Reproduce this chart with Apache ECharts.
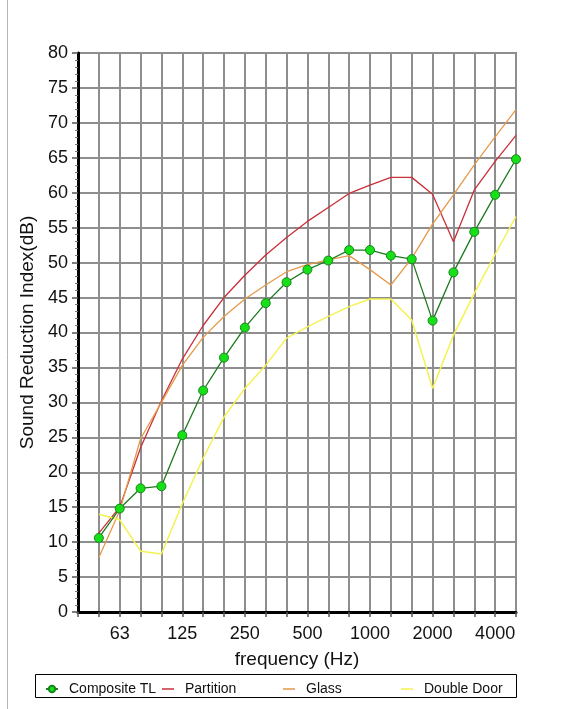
<!DOCTYPE html>
<html>
<head>
<meta charset="utf-8">
<script src="https://cdn.jsdelivr.net/npm/echarts@6/dist/echarts.min.js"></script>
<style>
  html, body { margin: 0; padding: 0; background: #fff; }
  #chart { width: 567px; height: 709px; }
</style>
</head>
<body>
<div id="chart"></div>
<script>
// one-third octave bands, 50 Hz .. 5000 Hz
var freqs = ['50', '63', '80', '100', '125', '160', '200', '250', '315', '400', '500',
    '630', '800', '1000', '1250', '1600', '2000', '2500', '3150', '4000', '5000'];
var tickLabels = ['63', '125', '250', '500', '1000', '2000', '4000'];

var compositeTL = [10.6, 14.8, 17.7, 18.0, 25.3, 31.7, 36.4, 40.7, 44.2, 47.2, 49.0,
    50.3, 51.8, 51.8, 51.0, 50.5, 41.7, 48.6, 54.4, 59.7, 64.8];
var partition = [11.3, 15.0, 23.5, 30.2, 36.2, 41.0, 45.0, 48.2, 51.1, 53.6, 55.9,
    57.9, 59.9, 61.1, 62.2, 62.2, 59.8, 53.0, 60.4, 64.5, 68.2];
var glass = [7.8, 14.5, 24.8, 30.0, 35.3, 39.3, 42.3, 44.8, 46.8, 48.7, 49.7,
    50.4, 51.0, 49.0, 46.8, 50.6, 55.5, 59.7, 64.0, 68.0, 71.9];
var doubleDoor = [14.0, 13.2, 8.7, 8.3, 15.5, 22.0, 27.9, 32.0, 35.3, 39.2, 40.8,
    42.3, 43.7, 44.8, 44.8, 41.8, 32.0, 39.6, 45.6, 51.2, 56.6];

function toPoints(arr) {
    return arr.map(function (v, i) { return [i, v]; });
}

var font = 'Arial, "Liberation Sans", sans-serif';
var chart = echarts.init(document.getElementById('chart'));

// one legend per entry so each can sit where the original puts it
function legendAt(name, left, lineOnly) {
    var lg = {
        data: [name],
        left: left,
        top: 677,
        itemWidth: 12,
        itemHeight: 8,
        selectedMode: false,
        textStyle: { fontFamily: font, fontSize: 14, color: '#111', padding: [0, 0, 0, 6] }
    };
    if (lineOnly) {
        lg.icon = 'rect';
        lg.itemHeight = 1.5;
    }
    return lg;
}

var option = {
    animation: false,
    backgroundColor: '#fff',
    grid: {
        left: 78, right: 51, top: 53, bottom: 97,
        show: true,
        borderColor: '#333',
        borderWidth: 1.5
    },
    xAxis: {
        type: 'value',
        min: -1,
        max: 20,
        interval: 1,
        name: 'frequency (Hz)',
        nameLocation: 'middle',
        nameGap: 38,
        nameTextStyle: { fontFamily: font, fontSize: 19, color: '#111' },
        axisLine: { onZero: false, lineStyle: { color: '#000', width: 3 } },
        axisTick: { show: true, length: 5, lineStyle: { color: '#555', width: 1.5 } },
        axisLabel: {
            margin: 13,
            fontFamily: font, fontSize: 18, color: '#111',
            formatter: function (v) {
                var f = freqs[v];
                return tickLabels.indexOf(f) >= 0 ? f : '';
            }
        },
        splitLine: { show: true, lineStyle: { color: '#8e8e8e', width: 2 } }
    },
    yAxis: {
        type: 'value',
        min: 0,
        max: 80,
        interval: 5,
        name: 'Sound Reduction Index(dB)',
        nameLocation: 'middle',
        nameGap: 41,
        nameTextStyle: { fontFamily: font, fontSize: 19, color: '#111' },
        axisLine: { show: true, onZero: false, lineStyle: { color: '#000', width: 3 } },
        axisTick: { show: true, length: 6, lineStyle: { color: '#555', width: 1.5 } },
        minorTick: { show: true, splitNumber: 5, length: 3, lineStyle: { color: '#777', width: 1 } },
        axisLabel: { margin: 10, fontFamily: font, fontSize: 18, color: '#111' },
        splitLine: { show: true, lineStyle: { color: '#8e8e8e', width: 2 } }
    },
    legend: [
        legendAt('Composite TL', 40, false),
        legendAt('Partition', 157, true),
        legendAt('Glass', 278, true),
        legendAt('Double Door', 396, true)
    ],
    graphic: [
        {
            type: 'rect',
            shape: { x: 35.5, y: 674.5, width: 481, height: 23 },
            style: { fill: 'none', stroke: '#000', lineWidth: 1 },
            z: -1
        },
        {
            type: 'line',
            shape: { x1: 7.5, y1: 0, x2: 7.5, y2: 709 },
            style: { stroke: '#b5b5b5', lineWidth: 1 }
        }
    ],
    series: [
        {
            name: 'Partition',
            type: 'line',
            data: toPoints(partition),
            symbol: 'none',
            lineStyle: { color: '#c9303a', width: 1.3 },
            itemStyle: { color: '#c9303a' }
        },
        {
            name: 'Glass',
            type: 'line',
            data: toPoints(glass),
            symbol: 'none',
            lineStyle: { color: '#e5994a', width: 1.3 },
            itemStyle: { color: '#e5994a' }
        },
        {
            name: 'Double Door',
            type: 'line',
            data: toPoints(doubleDoor),
            symbol: 'none',
            lineStyle: { color: '#f4f250', width: 1.5 },
            itemStyle: { color: '#f4f250' }
        },
        {
            name: 'Composite TL',
            type: 'line',
            data: toPoints(compositeTL),
            symbol: 'circle',
            symbolSize: 9,
            z: 5,
            lineStyle: { color: '#1e7a1e', width: 1.3 },
            itemStyle: { color: '#18e018', borderColor: '#14861a', borderWidth: 1 }
        }
    ]
};

chart.setOption(option);
</script>
</body>
</html>
